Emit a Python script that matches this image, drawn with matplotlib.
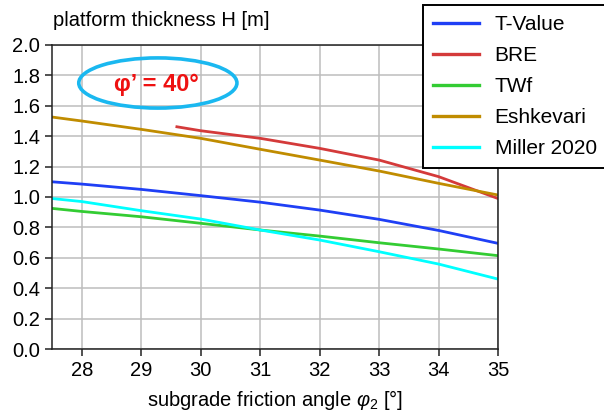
import matplotlib
matplotlib.use('Agg')
import matplotlib.pyplot as plt
from matplotlib.patches import Ellipse

plt.rcParams['font.family'] = ['Liberation Sans', 'DejaVu Sans']
plt.rcParams['mathtext.fontset'] = 'custom'
plt.rcParams['mathtext.rm'] = 'Liberation Sans'
plt.rcParams['mathtext.it'] = 'Liberation Sans:italic'

# values
x = [27.5, 28, 29, 30, 31, 32, 33, 34, 35]
t_value = [1.10, 1.085, 1.05, 1.009, 0.966, 0.914, 0.853, 0.78, 0.695]
twf = [0.925, 0.905, 0.87, 0.827, 0.783, 0.743, 0.699, 0.658, 0.614]
eshkevari = [1.526, 1.50, 1.445, 1.386, 1.314, 1.243, 1.171, 1.09, 1.013]
miller = [0.99, 0.97, 0.91, 0.855, 0.783, 0.717, 0.64, 0.559, 0.46]
x_bre = [29.6, 30, 31, 32, 33, 34, 35]
bre = [1.462, 1.436, 1.386, 1.32, 1.243, 1.134, 0.99]

fig = plt.figure(figsize=(6.04, 4.12), dpi=100)
ax = fig.add_axes([0.0861, 0.1529, 0.7384, 0.7379])

lw = 2.0
ax.plot(x, t_value, color='#1f3ff5', lw=lw, label='T-Value')
ax.plot(x_bre, bre, color='#d43a3a', lw=lw, label='BRE')
ax.plot(x, twf, color='#33cc33', lw=lw, label='TWf')
ax.plot(x, eshkevari, color='#c08c00', lw=lw, label='Eshkevari')
ax.plot(x, miller, color='#00ffff', lw=lw, label='Miller 2020')

ax.set_xlim(27.5, 35)
ax.set_ylim(0, 2.0)
ax.set_xticks(range(28, 36))
ax.set_yticks([i * 0.2 for i in range(11)])
ax.set_yticklabels(['%.1f' % (i * 0.2) for i in range(11)])
ax.grid(True, color='#bdbdbd', lw=1.1)
ax.set_axisbelow(True)
ax.tick_params(labelsize=14.5, length=5, width=1.1, color='#222222')
for s in ax.spines.values():
    s.set_color('#222222')
    s.set_linewidth(1.1)

ax.set_xlabel(r'subgrade friction angle $\varphi_2$ [°]', fontsize=14.5, labelpad=6)
fig.text(0.088, 0.951, 'platform thickness H [m]', fontsize=14.5, ha='left', va='center')

ell = Ellipse((29.28, 1.75), 2.66, 0.33, fill=False, edgecolor='#1ab8f0', lw=2.6)
ax.add_patch(ell)
ax.text(29.25, 1.74, 'φ’ = 40°', color='#ee1111', fontsize=17, fontweight='bold',
        ha='center', va='center')

leg = fig.legend(loc='upper left', bbox_to_anchor=(0.700, 0.988), fontsize=15,
                 frameon=True, fancybox=False, framealpha=1, edgecolor='black',
                 borderpad=0.5, labelspacing=0.57, handlelength=2.2,
                 handletextpad=0.75, borderaxespad=0)
leg.get_frame().set_linewidth(1.4)
for line in leg.get_lines():
    line.set_linewidth(2.4)

fig.savefig('out.png', dpi=100)
